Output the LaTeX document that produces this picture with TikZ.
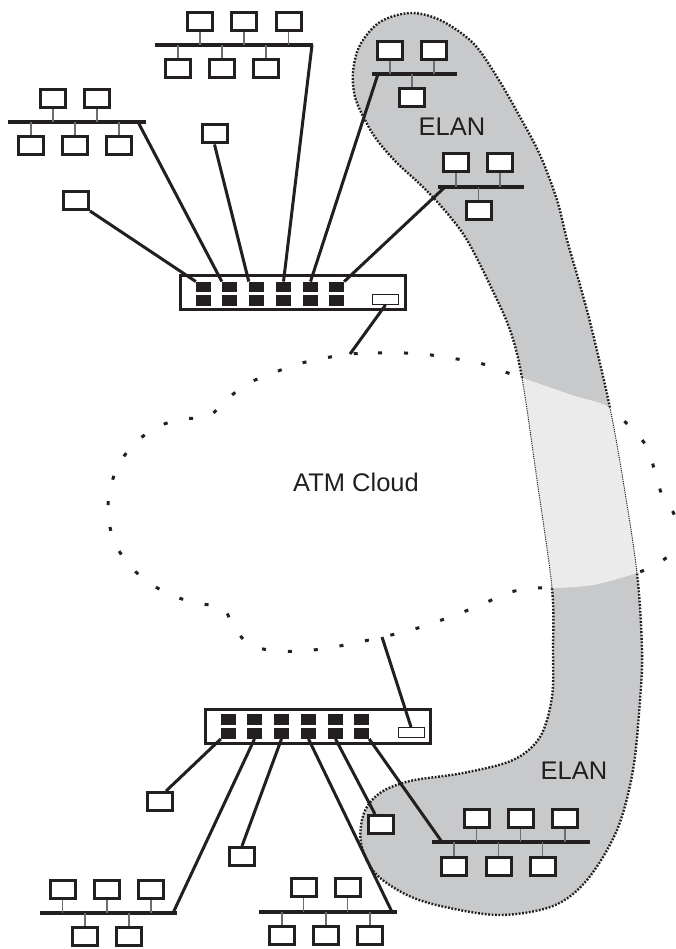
\documentclass[tikz,border=0pt]{standalone}
\usepackage{fontspec}
\setmainfont{Liberation Sans}
\definecolor{ink}{HTML}{231F20}
\definecolor{elan}{HTML}{C8C9CB}
\definecolor{elanlight}{HTML}{EBEBEC}
\definecolor{dropc}{HTML}{6D6E71}
\def\cloudpath{plot[smooth cycle, tension=0.5] coordinates {(350,354) (378,353) (405,353) (431,355) (457,359) (483,364) (508,373) (540,384) (575,396) (607,406) (630,427) (647,447) (655,472) (662,495) (673,512) (680,532) (672,552) (660,562) (637,573) (593,585) (555,588) (533,588) (507,593) (483,604) (458,614) (433,623) (408,631) (382,637) (355,643) (328,648) (303,651) (277,651) (250,645) (233,626) (223,608) (196,603) (171,595) (148,582) (128,564) (114,541) (108,515) (110,489) (119,464) (135,443) (157,427) (182,419) (208,417) (227,399) (249,383) (273,373) (298,364) (325,358)}}
\def\bandpath{plot[smooth cycle, tension=0.55] coordinates {(410,13) (440,20) (473,43) (497,77) (520,117) (540,155) (557,200) (567,240) (580,285) (592,330) (610,408) (623,480) (637,573) (642,650) (640,700) (633,770) (617,830) (587,880) (553,906) (500,915) (445,907) (407,895) (375,873) (361,843) (364,813) (380,793) (410,781) (463,773) (513,760) (540,737) (552,697) (553,650) (552,588) (537,480) (522,378) (510,330) (490,285) (467,240) (447,213) (423,187) (397,163) (377,140) (365,120) (355,97) (353,72) (360,45) (380,22)}}
\begin{document}
\begin{tikzpicture}[x=1pt,y=-1pt,
  pc/.style={draw=ink, line width=3pt, fill=white, minimum width=25pt, minimum height=18pt, inner sep=0pt},
  bus/.style={draw=ink, line width=3.2pt},
  drop/.style={draw=dropc, line width=1.4pt},
  link/.style={draw=ink, line width=3pt},
  port/.style={fill=ink, minimum width=15pt, minimum height=10.5pt, inner sep=0pt},
  uplink/.style={draw=ink, line width=1pt, fill=white, minimum width=26pt, minimum height=10pt, inner sep=0pt},
  switchbox/.style={draw=ink, line width=3pt, fill=white, minimum width=225pt, minimum height=34pt, inner sep=0pt},
  lbl/.style={text=ink, font=\fontsize{25.5}{30}\selectfont, inner sep=0pt},
  clouddash/.style={draw=ink, line width=3pt, dash pattern=on 4pt off 22pt},
  elandots/.style={draw=ink, line width=2.4pt, dash pattern=on 1.8pt off 1.6pt},
  elanfine/.style={draw=ink, line width=1pt, dash pattern=on 1.1pt off 1.1pt}]
\useasboundingbox (0,0) rectangle (675,949);

% ATM cloud outline
\draw[clouddash] \cloudpath;
% ELAN band
\fill[elan] \bandpath;
\begin{scope}
  \clip \bandpath;
  \fill[elanlight] \cloudpath;
\end{scope}
\begin{scope}
  \clip (-10,-10) -- (-10,970) -- (690,970) -- (690,-10) -- cycle \cloudpath;
  \draw[elandots] \bandpath;
\end{scope}
\begin{scope}
  \clip \cloudpath;
  \draw[elanfine] \bandpath;
\end{scope}

\coordinate (cA) at (350,354);
\coordinate (cB) at (382,637);

% labels
\node[lbl] (atm) at (356,482) {ATM Cloud};
\node[lbl] (elan1) at (452,127) {ELAN};
\node[lbl] (elan2) at (574,771) {ELAN};

% LAN 1 (top left)
\coordinate (b1w) at (8,122); \coordinate (b1e) at (146,122); \coordinate (b1x) at (138,122);
\draw[bus] (b1w) -- (b1e);
\foreach \i/\x in {1/53,2/97} {\node[pc] (l1t\i) at (\x,98.5) {}; \draw[drop] (l1t\i.south) -- (l1t\i.south |- b1w);}
\foreach \i/\x in {1/31,2/75,3/119} {\node[pc] (l1b\i) at (\x,145.5) {}; \draw[drop] (l1b\i.north) -- (l1b\i.north |- b1w);}

% LAN 2 (top middle)
\coordinate (b2w) at (155,45); \coordinate (b2e) at (313,45); \coordinate (b2x) at (312,45);
\draw[bus] (b2w) -- (b2e);
\foreach \i/\x in {1/200,2/244,3/288.5} {\node[pc] (l2t\i) at (\x,21.5) {}; \draw[drop] (l2t\i.south) -- (l2t\i.south |- b2w);}
\foreach \i/\x in {1/178,2/222,3/266} {\node[pc] (l2b\i) at (\x,68.5) {}; \draw[drop] (l2b\i.north) -- (l2b\i.north |- b2w);}

% LAN 3 (ELAN top)
\coordinate (b3w) at (372,74); \coordinate (b3e) at (457,74); \coordinate (b3x) at (378,74);
\draw[bus] (b3w) -- (b3e);
\foreach \i/\x in {1/390,2/434} {\node[pc] (l3t\i) at (\x,51) {}; \draw[drop] (l3t\i.south) -- (l3t\i.south |- b3w);}
\node[pc] (l3b1) at (412,97.5) {}; \draw[drop] (l3b1.north) -- (l3b1.north |- b3w);

% LAN 4 (ELAN middle)
\coordinate (b4w) at (438,187); \coordinate (b4e) at (524,187); \coordinate (b4x) at (445,187);
\draw[bus] (b4w) -- (b4e);
\foreach \i/\x in {1/456,2/500} {\node[pc] (l4t\i) at (\x,163) {}; \draw[drop] (l4t\i.south) -- (l4t\i.south |- b4w);}
\node[pc] (l4b1) at (478.5,210.5) {}; \draw[drop] (l4b1.north) -- (l4b1.north |- b4w);

% single PCs top
\node[pc] (pcA) at (76,200.5) {};
\node[pc] (pcB) at (214.5,134) {};

% switch A
\node[switchbox] (swA) at (293,292.5) {};
\foreach \i/\x in {1/203.5,2/229.5,3/256.5,4/283.5,5/310.5,6/336.5} {\node[port] (aT\i) at (\x,287) {}; \node[port] (aB\i) at (\x,300.5) {};}
\node[uplink] (uA) at (385.5,299.5) {};

\draw[link] (pcA.south east) -- (aT1.north west);
\draw[link] (b1x) -- (aT2.north west);
\draw[link] (pcB.south) -- (aT3.north west);
\draw[link] (b2x) -- (aT4.north);
\draw[link] (b3x) -- (aT5.north);
\draw[link] (b4x) -- (aT6.north east);
\draw[link] (uA.south) -- (cA);

% LAN 5 (bottom left)
\coordinate (b5w) at (40,913); \coordinate (b5e) at (177,913); \coordinate (b5x) at (173,913);
\draw[bus] (b5w) -- (b5e);
\foreach \i/\x in {1/62.5,2/107,3/151} {\node[pc] (l5t\i) at (\x,889.5) {}; \draw[drop] (l5t\i.south) -- (l5t\i.south |- b5w);}
\foreach \i/\x in {1/85,2/129} {\node[pc] (l5b\i) at (\x,936.5) {}; \draw[drop] (l5b\i.north) -- (l5b\i.north |- b5w);}

% LAN 6 (bottom middle)
\coordinate (b6w) at (259,912); \coordinate (b6e) at (397,912); \coordinate (b6x) at (392,912);
\draw[bus] (b6w) -- (b6e);
\foreach \i/\x in {1/303.5,2/347.5} {\node[pc] (l6t\i) at (\x,887.5) {}; \draw[drop] (l6t\i.south) -- (l6t\i.south |- b6w);}
\foreach \i/\x in {1/282,2/326,3/370} {\node[pc] (l6b\i) at (\x,935) {}; \draw[drop] (l6b\i.north) -- (l6b\i.north |- b6w);}

% LAN 7 (ELAN bottom)
\coordinate (b7w) at (432,842); \coordinate (b7e) at (590,842); \coordinate (b7x) at (442,842);
\draw[bus] (b7w) -- (b7e);
\foreach \i/\x in {1/476.5,2/520.5,3/565} {\node[pc] (l7t\i) at (\x,818.5) {}; \draw[drop] (l7t\i.south) -- (l7t\i.south |- b7w);}
\foreach \i/\x in {1/454,2/498.5,3/542.5} {\node[pc] (l7b\i) at (\x,866.5) {}; \draw[drop] (l7b\i.north) -- (l7b\i.north |- b7w);}

% single PCs bottom
\node[pc] (pcC) at (160,801.5) {};
\node[pc] (pcD) at (242,856.5) {};
\node[pc] (pcE) at (381,824.5) {};

% switch B
\node[switchbox] (swB) at (318,726) {};
\foreach \i/\x in {1/228.5,2/254.5,3/281.5,4/308.5,5/335.5,6/361.5} {\node[port] (bT\i) at (\x,719.5) {}; \node[port] (bB\i) at (\x,733.5) {};}
\node[uplink] (uB) at (411,732.5) {};

\draw[link] (pcC.60) -- (bB1.south west);
\draw[link] (b5x) -- (bB2.south);
\draw[link] (pcD.north) -- (bB3.south);
\draw[link] (b6x) -- (bB4.south);
\draw[link] (pcE.120) -- (bB5.south);
\draw[link] (b7x) -- (bB6.south east);
\draw[link] (uB.north) -- (cB);
\end{tikzpicture}
\end{document}
